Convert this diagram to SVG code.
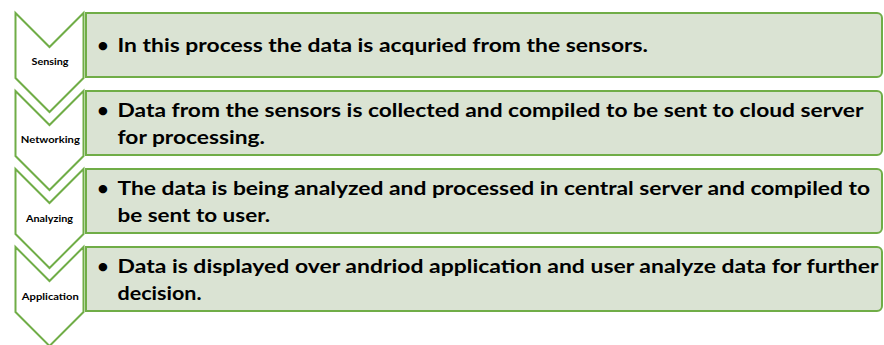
<svg xmlns="http://www.w3.org/2000/svg" width="884" height="345" viewBox="0 0 884 345">
<style>
.chev{fill:#ffffff;stroke:#70ad47;stroke-width:2;stroke-linejoin:miter}
.box{fill:#dae3d3;stroke:#70ad47;stroke-width:2}
.lbl{font-family:Lato,"Liberation Sans",sans-serif;font-weight:bold;font-size:10px;fill:#000;text-anchor:middle}
.txt{font-family:Lato,"Liberation Sans",sans-serif;font-weight:bold;font-size:19.5px;fill:#000}
.bul{font-family:Lato,"Liberation Sans",sans-serif;font-weight:bold;font-size:19.5px;fill:#000;text-anchor:middle}
</style>
<rect width="884" height="345" fill="#ffffff"/>
<g id="step-sensing">
<path class="chev" d="M15.5,13 L49.5,47 L83.5,13 V78 L49.5,112 L15.5,78 Z"/>
<text class="lbl" x="50" y="65" textLength="37" lengthAdjust="spacingAndGlyphs">Sensing</text>
<path class="box" d="M86,13 H877 A5,5 0 0 1 882,18 V72 A5,5 0 0 1 877,77 H86 Z"/>
<text class="bul" x="103" y="52">•</text>
<text class="txt" x="117.5" y="52" textLength="530.5" lengthAdjust="spacingAndGlyphs">In this process the data is acquried from the sensors.</text>
</g>
<g id="step-networking">
<path class="chev" d="M15.5,91 L49.5,125 L83.5,91 V156 L49.5,190 L15.5,156 Z"/>
<text class="lbl" x="50.3" y="143" textLength="59" lengthAdjust="spacingAndGlyphs">Networking</text>
<path class="box" d="M86,91 H877 A5,5 0 0 1 882,96 V150 A5,5 0 0 1 877,155 H86 Z"/>
<text class="bul" x="103" y="117">•</text>
<text class="txt" x="117.5" y="117" textLength="746" lengthAdjust="spacingAndGlyphs">Data from the sensors is collected and compiled to be sent to cloud server</text>
<text class="txt" x="117.5" y="143.5" textLength="147.5" lengthAdjust="spacingAndGlyphs">for processing.</text>
</g>
<g id="step-analyzing">
<path class="chev" d="M15.5,169 L49.5,203 L83.5,169 V234 L49.5,268 L15.5,234 Z"/>
<text class="lbl" x="49.5" y="221.5" textLength="47" lengthAdjust="spacingAndGlyphs">Analyzing</text>
<path class="box" d="M86,169 H877 A5,5 0 0 1 882,174 V228 A5,5 0 0 1 877,233 H86 Z"/>
<text class="bul" x="103" y="195">•</text>
<text class="txt" x="117.5" y="195" textLength="752.5" lengthAdjust="spacingAndGlyphs">The data is being analyzed and processed in central server and compiled to</text>
<text class="txt" x="117.5" y="221.5" textLength="152.5" lengthAdjust="spacingAndGlyphs">be sent to user.</text>
</g>
<g id="step-application">
<path class="chev" d="M15.5,247 L49.5,281 L83.5,247 V312 L49.5,346 L15.5,312 Z"/>
<text class="lbl" x="50.3" y="299.5" textLength="57" lengthAdjust="spacingAndGlyphs">Application</text>
<path class="box" d="M86,247 H877 A5,5 0 0 1 882,252 V306 A5,5 0 0 1 877,311 H86 Z"/>
<text class="bul" x="103" y="273">•</text>
<text class="txt" x="117.5" y="273" textLength="761" lengthAdjust="spacingAndGlyphs">Data is displayed over andriod application and user analyze data for further</text>
<text class="txt" x="117.5" y="299.5" textLength="84" lengthAdjust="spacingAndGlyphs">decision.</text>
</g>
<g id="connectors"></g>
</svg>
